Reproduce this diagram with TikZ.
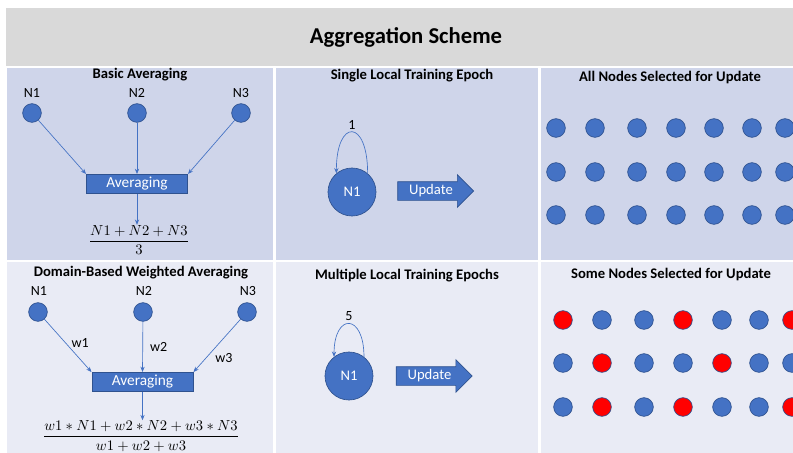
\documentclass[tikz,border=0pt]{standalone}
\usepackage{amsmath}
\usepackage{fontspec}
\setmainfont{Carlito}
\usepackage{tikz}
\usetikzlibrary{arrows.meta,positioning,shapes.arrows}

\definecolor{hdrgray}{HTML}{D9D9D9}
\definecolor{rowone}{HTML}{CFD5EA}
\definecolor{rowtwo}{HTML}{E9EBF5}
\definecolor{nodeblue}{HTML}{4472C4}
\definecolor{edgeblue}{HTML}{2F528F}

\tikzset{
  dot/.style={circle,fill=nodeblue,draw=edgeblue,line width=0.5pt,minimum size=14pt,inner sep=0pt},
  reddot/.style={dot,fill=red},
  bignode/.style={circle,fill=nodeblue,draw=edgeblue,line width=0.5pt,minimum size=36pt,inner sep=0pt,text=white,font=\fontsize{11}{13}\selectfont},
  avgbox/.style={rectangle,fill=nodeblue,draw=edgeblue,line width=0.5pt,text=white,minimum width=76pt,minimum height=14.5pt,inner sep=0pt,font=\fontsize{11.5}{13}\selectfont},
  link/.style={-{Stealth[length=4pt,width=3.2pt]},draw=nodeblue,line width=0.5pt},
  heading/.style={font=\bfseries\fontsize{11}{13}\selectfont},
  lbl/.style={font=\fontsize{10.5}{12}\selectfont},
  updarrow/.style={single arrow,fill=nodeblue,draw=edgeblue,line width=0.5pt,text=white,minimum height=57pt,
    single arrow head extend=5.25pt,text height=7.5pt,text depth=2pt,inner xsep=3pt,inner ysep=2pt,font=\fontsize{11}{13}\selectfont},
  fracnode/.style={font=\fontsize{11}{13}\selectfont,inner sep=0pt},
}

\begin{document}
\begin{tikzpicture}[x=0.75pt,y=-0.75pt]
  \useasboundingbox (0,0) rectangle (793,453);
  \clip (0,0) rectangle (793,453);

  % table background
  \fill[hdrgray] (6,8) rectangle (793,66);
  \fill[rowone] (7,68) rectangle (273,260);
  \fill[rowone] (276,68) rectangle (538,260);
  \fill[rowone] (541,68) rectangle (793,260);
  \fill[rowtwo] (7,262) rectangle (273,453);
  \fill[rowtwo] (276,262) rectangle (538,453);
  \fill[rowtwo] (541,262) rectangle (793,453);
  \node[font=\bfseries\fontsize{17}{20}\selectfont] (title) at (406,37) {Aggregation Scheme};

  % basic averaging
  \node[heading] (h1) at (140,75) {Basic Averaging};
  \foreach \x/\n in {32/1,137/2,241/3}{
    \node[lbl] (bl\n) at (\x,93) {N\n};
    \node[dot] (b\n) at (\x,113) {};
  }
  \node[avgbox] (bavg) at (137,184) {Averaging};
  \draw[link] (b1) -- (bavg.north west);
  \draw[link] (b2) -- (bavg.north);
  \draw[link] (b3) -- (bavg.north east);
  \node[fracnode] (bfrac) at (139,240) {$\dfrac{N1+N2+N3}{3}$};
  \draw[link] (bavg.south) -- (bavg.south |- bfrac.north);

  % weighted averaging
  \node[heading] (h2) at (141,273) {Domain-Based Weighted Averaging};
  \foreach \x/\n in {38/1,143/2,247/3}{
    \node[lbl] (wl\n) at (\x+1,291) {N\n};
    \node[dot] (w\n) at (\x,312) {};
  }
  \node[avgbox] (wavg) at (142.5,382) {Averaging};
  \draw[link] (w1) -- node[lbl,pos=0.45,right,xshift=1pt] (wt1) {w1} (wavg.north west);
  \draw[link] (w2) -- node[lbl,pos=0.5,right,xshift=2pt] (wt2) {w2} (wavg.north);
  \draw[link] (w3) -- node[lbl,pos=0.55,below right,xshift=-3pt] (wt3) {w3} (wavg.north east);
  \node[fracnode] (wfrac) at (141,436) {$\dfrac{w1\ast N1+w2\ast N2+w3\ast N3}{w1+w2+w3}$};
  \draw[link] (wavg.south) -- (wavg.south |- wfrac.north);

  % single epoch
  \node[heading] (h3) at (412,76) {Single Local Training Epoch};
  \node[bignode] (s1) at (352,192) {N1};
  \draw[link] (s1.50) .. controls +(0,-55) and +(0,-55) .. node[lbl,above,inner sep=2pt] (e1) {1} (s1.130);
  \node[updarrow] (u1) at (431,191) {Update};

  % multiple epochs
  \node[heading] (h4) at (407,276) {Multiple Local Training Epochs};
  \node[bignode] (s2) at (349,376) {N1};
  \draw[link] (s2.52) .. controls +(0,-44) and +(0,-44) .. node[lbl,above,inner sep=2pt] (e5) {5} (s2.128);
  \node[updarrow] (u2) at (429.5,376) {Update};

  % all nodes
  \node[heading] (h5) at (670,78) {All Nodes Selected for Update};
  \foreach \y [count=\r] in {128,172,215}
    \foreach \x [count=\c] in {556,595,637,676,714,752,785}
      \node[dot] (a\r\c) at (\x,\y) {};

  % some nodes
  \node[heading] (h6) at (671,275) {Some Nodes Selected for Update};
  \foreach \x/\s [count=\c] in {563/reddot,602/dot,644/dot,683/reddot,722/dot,759/dot,792/reddot}
    \node[\s] (p1\c) at (\x,320) {};
  \foreach \x/\s [count=\c] in {563/dot,602/reddot,644/dot,683/dot,722/reddot,759/dot,792/dot}
    \node[\s] (p2\c) at (\x,363) {};
  \foreach \x/\s [count=\c] in {563/dot,602/reddot,644/dot,683/reddot,722/dot,759/dot,792/reddot}
    \node[\s] (p3\c) at (\x,407) {};
\end{tikzpicture}
\end{document}
